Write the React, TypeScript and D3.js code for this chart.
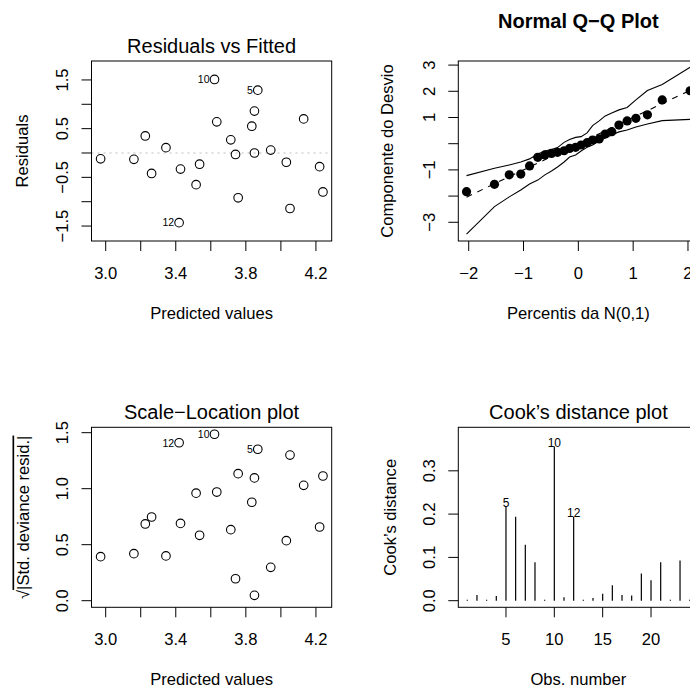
import React from "react";
import * as d3 from "d3";

// ---------- DATA ----------
const fittedValues = [2.971, 3.161, 3.226, 3.262, 3.344, 3.427, 3.419, 3.516, 3.536, 3.621, 3.634, 3.714, 3.741, 3.756, 3.834, 3.849, 3.868, 3.849, 3.942, 4.031, 4.052, 4.13, 4.221, 4.24];
const residualValues = [-0.12, -0.13, 0.35, -0.42, 0.11, -0.33, -1.43, -0.65, -0.23, 1.51, 0.64, 0.27, -0.03, -0.92, 0.55, 0.86, 1.29, 0.0, 0.06, -0.19, -1.14, 0.7, -0.28, -0.8];
const sqrtAbsStdResid = [0.393, 0.42, 0.685, 0.747, 0.4, 0.69, 1.41, 0.96, 0.584, 1.486, 0.97, 0.634, 0.196, 1.134, 0.879, 1.096, 1.352, 0.048, 0.298, 0.536, 1.3, 1.03, 0.658, 1.113];
const labeledIndex = [6, 9, 16];
const labeledText = ["12", "10", "5"];

const theoreticalQuantiles = [-2.04, -1.53, -1.26, -1.05, -0.89, -0.74, -0.61, -0.49, -0.38, -0.26, -0.16, -0.05, 0.05, 0.16, 0.26, 0.38, 0.49, 0.61, 0.74, 0.89, 1.05, 1.26, 1.53, 2.04];
const orderedDeviance = [-1.83, -1.55, -1.19, -1.16, -0.85, -0.52, -0.43, -0.37, -0.33, -0.27, -0.18, -0.14, -0.05, 0.04, 0.14, 0.18, 0.37, 0.46, 0.71, 0.87, 0.97, 1.1, 1.67, 2.02];
const envelopeUpper = [-1.22, -0.94, -0.81, -0.7, -0.58, -0.39, -0.28, -0.22, -0.15, 0.05, 0.16, 0.24, 0.27, 0.41, 0.69, 0.87, 1.06, 1.17, 1.29, 1.38, 1.67, 2.03, 2.26, 2.92];
const envelopeLower = [-3.45, -2.4, -2.03, -1.77, -1.54, -1.39, -1.19, -1.04, -0.89, -0.7, -0.51, -0.43, -0.28, -0.14, -0.05, 0.1, 0.22, 0.33, 0.45, 0.52, 0.64, 0.75, 0.88, 0.93];

const cookDistance = [0.002, 0.013, 0.002, 0.011, 0.217, 0.194, 0.129, 0.089, 0.002, 0.356, 0.008, 0.194, 0.002, 0.006, 0.016, 0.0355, 0.013, 0.012, 0.063, 0.047, 0.089, 0.002, 0.093, 0.002];
const cookLabeledObs = [5, 10, 12];

const fittedTicks = [3.0, 3.2, 3.4, 3.6, 3.8, 4.0, 4.2];
const fittedTickLabels = ["3.0", "", "3.4", "", "3.8", "", "4.2"];
const residTicks = [-1.5, -1.0, -0.5, 0, 0.5, 1.0, 1.5];
const residTickLabels = ["\u22121.5", "", "\u22120.5", "", "0.5", "", "1.5"];
const qqXTicks = [-2, -1, 0, 1, 2];
const qqXTickLabels = ["\u22122", "\u22121", "0", "1", "2"];
const qqYTicks = [-3, -2, -1, 0, 1, 2, 3];
const qqYTickLabels = ["\u22123", "", "\u22121", "", "1", "2", "3"];
const slTicks = [0, 0.5, 1.0, 1.5];
const slTickLabels = ["0.0", "0.5", "1.0", "1.5"];
const cookXTicks = [5, 10, 15, 20];
const cookXTickLabels = ["5", "10", "15", "20"];
const cookYTicks = [0, 0.1, 0.2, 0.3];
const cookYTickLabels = ["0.0", "0.1", "0.2", "0.3"];

const titleResid = "Residuals vs Fitted";
const titleQQ = "Normal Q\u2212Q Plot";
const titleSL = "Scale\u2212Location plot";
const titleCook = "Cook\u2019s distance plot";

// ---------- STYLE ----------
const FONT = "'Liberation Sans', Arial, Helvetica, sans-serif";
const BASE = 16.6;
const TITLE = 20;

type Box = { x0: number; x1: number; y0: number; y1: number };

const TL: Box = { x0: 91.5, x1: 331.7, y0: 61, y1: 241 };
const TR: Box = { x0: 458.3, x1: 698.5, y0: 61, y1: 241 };
const BL: Box = { x0: 91.5, x1: 331.7, y0: 427.3, y1: 607.3 };
const BR: Box = { x0: 458.3, x1: 698.5, y0: 427.3, y1: 607.3 };

function Frame(props: {
  box: Box;
  x: d3.ScaleLinear<number, number>;
  y: d3.ScaleLinear<number, number>;
  xTicks: number[];
  xLabels: string[];
  yTicks: number[];
  yLabels: string[];
  title: string;
  titleBold?: boolean;
  titleY: number;
  xTitle: string;
  yTitle: React.ReactNode;
  yTitleOffset: number;
}) {
  const { box, x, y } = props;
  const cx = (box.x0 + box.x1) / 2;
  const cy = (box.y0 + box.y1) / 2;
  return (
    <g fontFamily={FONT} fill="#000">
      <rect x={box.x0} y={box.y0} width={box.x1 - box.x0} height={box.y1 - box.y0} fill="none" stroke="#000" strokeWidth={1} />
      {props.xTicks.map((t, i) => (
        <g key={"xt" + i}>
          <line x1={x(t)} x2={x(t)} y1={box.y1} y2={box.y1 + 10} stroke="#000" strokeWidth={1} />
          {props.xLabels[i] ? (
            <text x={x(t)} y={box.y1 + 37.5} fontSize={BASE} textAnchor="middle">{props.xLabels[i]}</text>
          ) : null}
        </g>
      ))}
      {props.yTicks.map((t, i) => (
        <g key={"yt" + i}>
          <line x1={box.x0 - 10} x2={box.x0} y1={y(t)} y2={y(t)} stroke="#000" strokeWidth={1} />
          {props.yLabels[i] ? (
            <text transform={`translate(${box.x0 - 23.5},${y(t)}) rotate(-90)`} fontSize={BASE} textAnchor="middle">{props.yLabels[i]}</text>
          ) : null}
        </g>
      ))}
      <text x={cx} y={props.titleY} fontSize={TITLE} textAnchor="middle" fontWeight={props.titleBold ? "bold" : "normal"}>{props.title}</text>
      <text x={cx} y={box.y1 + 77.7} fontSize={BASE} textAnchor="middle">{props.xTitle}</text>
      <text transform={`translate(${box.x0 - props.yTitleOffset},${cy}) rotate(-90)`} fontSize={BASE} textAnchor="middle">{props.yTitle}</text>
    </g>
  );
}

export default function App() {
  // Residuals vs Fitted
  const xF = d3.scaleLinear().domain([2.919, 4.29]).range([TL.x0, TL.x1]);
  const yR = d3.scaleLinear().domain([-1.807, 1.889]).range([TL.y1, TL.y0]);
  // Scale-Location
  const xF2 = d3.scaleLinear().domain([2.919, 4.29]).range([BL.x0, BL.x1]);
  const yS = d3.scaleLinear().domain([-0.059, 1.548]).range([BL.y1, BL.y0]);
  // QQ
  const xQ = d3.scaleLinear().domain([-2.19, 2.192]).range([TR.x0, TR.x1]);
  const yQ = d3.scaleLinear().domain([-3.714, 3.156]).range([TR.y1, TR.y0]);
  // Cook
  const xC = d3.scaleLinear().domain([0.07, 24.91]).range([BR.x0, BR.x1]);
  const yC = d3.scaleLinear().domain([-0.01524, 0.4005]).range([BR.y1, BR.y0]);

  const envLine = d3.line<number>().x((_, i) => xQ(theoreticalQuantiles[i])).y((d) => yQ(d));
  const qMin = d3.min(theoreticalQuantiles) as number;
  const qMax = d3.max(theoreticalQuantiles) as number;

  return (
    <svg width={690} height={689} style={{ position: "absolute", left: 0, top: 0, background: "#fff" }}>
      <rect x={0} y={0} width={690} height={689} fill="#fff" />

      {/* Residuals vs Fitted */}
      <line x1={TL.x0} x2={TL.x1} y1={yR(0)} y2={yR(0)} stroke="#bebebe" strokeWidth={1} strokeDasharray="2,4" />
      {fittedValues.map((f, i) => (
        <circle key={"r" + i} cx={xF(f)} cy={yR(residualValues[i])} r={4.3} fill="none" stroke="#000" strokeWidth={1.1} />
      ))}
      {labeledIndex.map((idx, k) => (
        <text key={"rl" + k} x={xF(fittedValues[idx]) - 5} y={yR(residualValues[idx]) + 3.8} fontSize={10.5} fontFamily={FONT} fill="#000" textAnchor="end">{labeledText[k]}</text>
      ))}
      <Frame box={TL} x={xF} y={yR} xTicks={fittedTicks} xLabels={fittedTickLabels} yTicks={residTicks} yLabels={residTickLabels}
        title={titleResid} titleY={TL.y0 - 8.3} xTitle="Predicted values" yTitle="Residuals" yTitleOffset={63.2} />

      {/* Normal QQ */}
      <path d={envLine(envelopeUpper) || ""} fill="none" stroke="#000" strokeWidth={1.1} />
      <path d={envLine(envelopeLower) || ""} fill="none" stroke="#000" strokeWidth={1.1} />
      <line x1={xQ(qMin)} x2={xQ(qMax)} y1={yQ(qMin)} y2={yQ(qMax)} stroke="#000" strokeWidth={1.1} strokeDasharray="6,6" />
      {theoreticalQuantiles.map((q, i) => (
        <circle key={"q" + i} cx={xQ(q)} cy={yQ(orderedDeviance[i])} r={4.6} fill="#000" />
      ))}
      <Frame box={TR} x={xQ} y={yQ} xTicks={qqXTicks} xLabels={qqXTickLabels} yTicks={qqYTicks} yLabels={qqYTickLabels}
        title={titleQQ} titleBold titleY={28} xTitle="Percentis da N(0,1)" yTitle="Componente do Desvio" yTitleOffset={65} />

      {/* Scale-Location */}
      {fittedValues.map((f, i) => (
        <circle key={"s" + i} cx={xF2(f)} cy={yS(sqrtAbsStdResid[i])} r={4.3} fill="none" stroke="#000" strokeWidth={1.1} />
      ))}
      {labeledIndex.map((idx, k) => (
        <text key={"sl" + k} x={xF2(fittedValues[idx]) - 5} y={yS(sqrtAbsStdResid[idx]) + 3.8} fontSize={10.5} fontFamily={FONT} fill="#000" textAnchor="end">{labeledText[k]}</text>
      ))}
      <Frame box={BL} x={xF2} y={yS} xTicks={fittedTicks} xLabels={fittedTickLabels} yTicks={slTicks} yLabels={slTickLabels}
        title={titleSL} titleY={BL.y0 - 8} xTitle="Predicted values"
        yTitle={<><tspan>{"\u221A"}</tspan><tspan style={{ textDecoration: "overline" }}>{"|Std. deviance resid.|"}</tspan></>}
        yTitleOffset={63} />

      {/* Cook's distance */}
      {cookDistance.map((c, i) => (
        <line key={"c" + i} x1={xC(i + 1)} x2={xC(i + 1)} y1={yC(0)} y2={yC(c)} stroke="#000" strokeWidth={1.2} />
      ))}
      {cookLabeledObs.map((o, k) => (
        <text key={"cl" + k} x={xC(o)} y={yC(cookDistance[o - 1]) + 0.5} fontSize={12} fontFamily={FONT} fill="#000" textAnchor="middle">{String(o)}</text>
      ))}
      <Frame box={BR} x={xC} y={yC} xTicks={cookXTicks} xLabels={cookXTickLabels} yTicks={cookYTicks} yLabels={cookYTickLabels}
        title={titleCook} titleY={BR.y0 - 8} xTitle="Obs. number" yTitle={"Cook\u2019s distance"} yTitleOffset={62.6} />
    </svg>
  );
}
